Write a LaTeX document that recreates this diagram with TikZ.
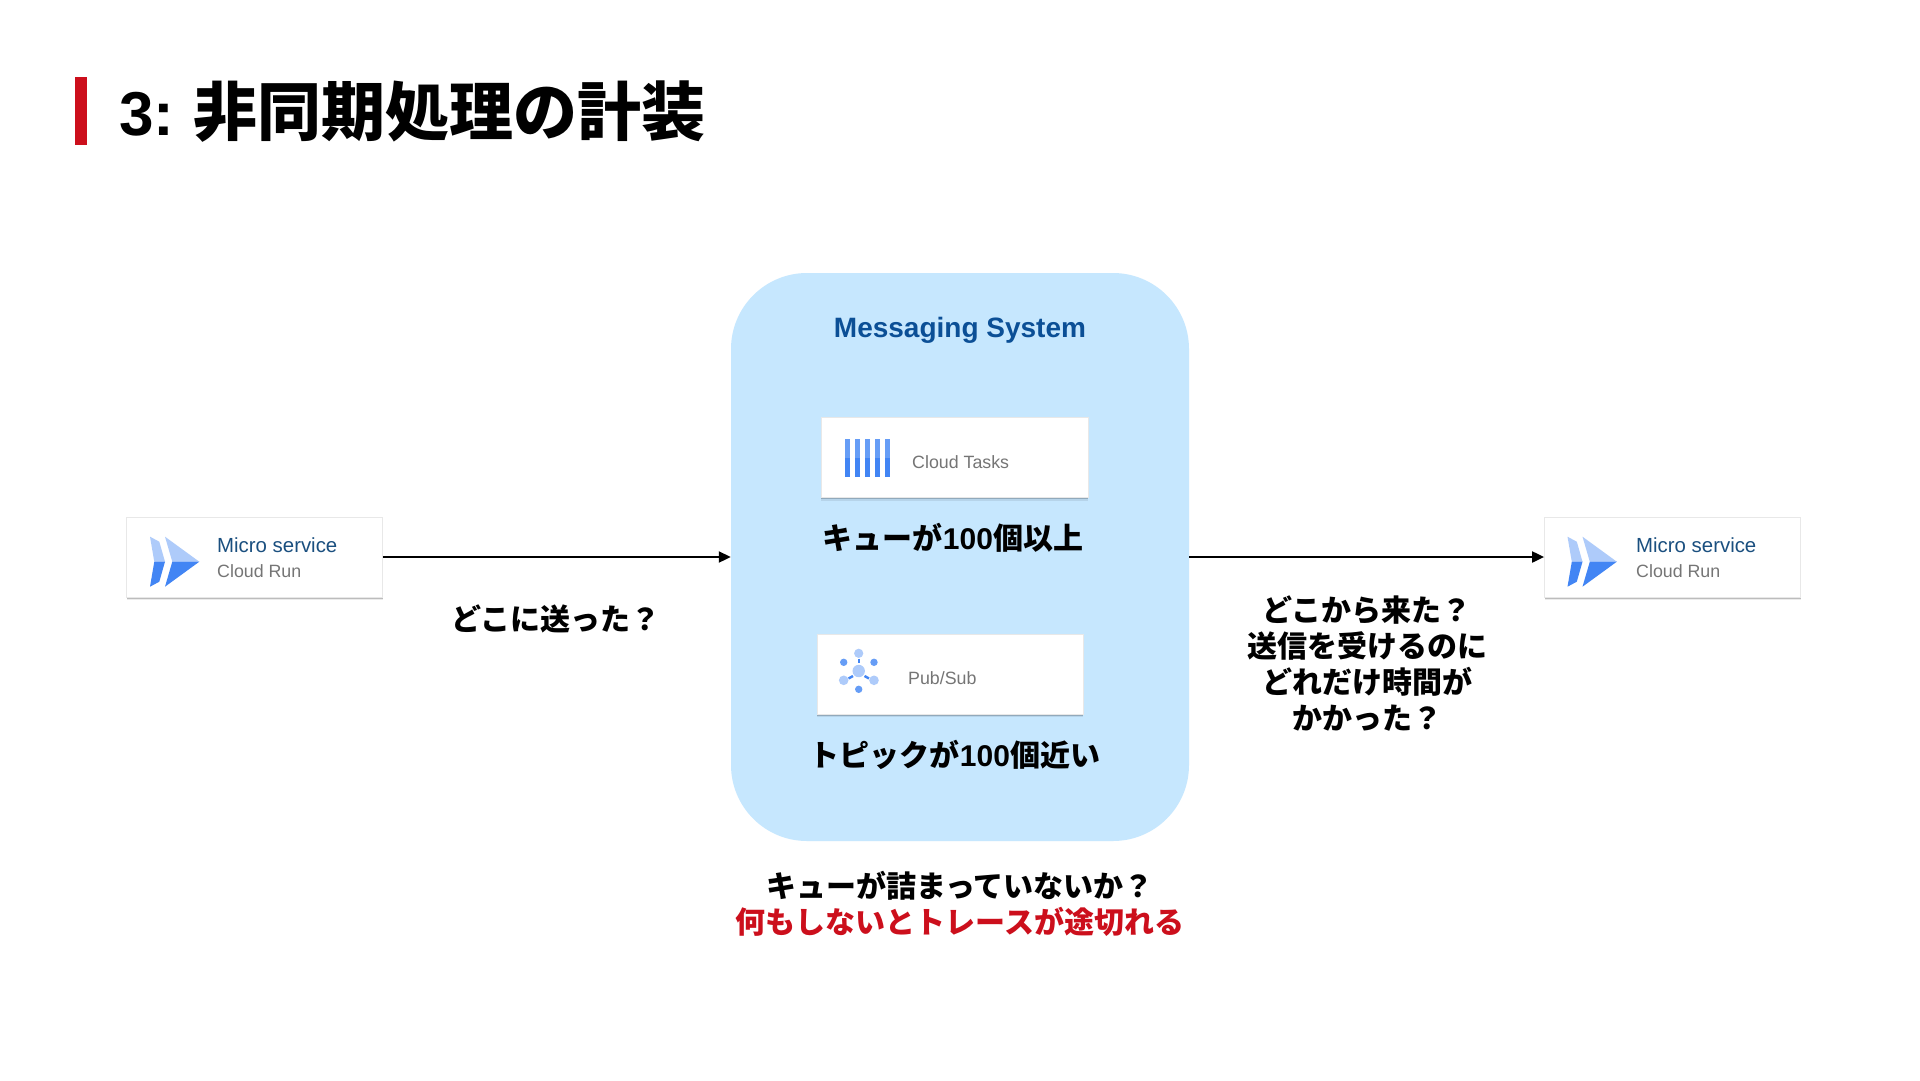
\documentclass[tikz,border=0pt]{standalone}
\usepackage{fontspec}
\setmainfont{Noto Sans CJK JP}
\newfontfamily\latb{Liberation Sans}
\usetikzlibrary{arrows.meta,shadows}
\definecolor{brandred}{HTML}{CC0F1C}
\definecolor{panelblue}{HTML}{C6E7FE}
\definecolor{headblue}{HTML}{0B4F96}
\definecolor{nameblue}{HTML}{1A4F7F}
\definecolor{subgray}{HTML}{757575}
\definecolor{glight}{HTML}{AECBFA}
\definecolor{gmid}{HTML}{669DF6}
\definecolor{gdark}{HTML}{4285F4}
\definecolor{cardedge}{HTML}{E8E8E8}
\newcommand{\fs}[2]{\fontsize{#1}{#2}\selectfont}
\tikzset{
  x=1pt,y=-1pt,
  card/.style={fill=white,draw=cardedge,line width=.8pt,inner sep=0pt,minimum width=256pt,minimum height=80pt,
    general shadow={fill=black,opacity=.08,shadow xshift=0pt,shadow yshift=-3pt},
    general shadow={fill=black,opacity=.20,shadow xshift=0pt,shadow yshift=-1.5pt}},
  panel/.style={fill=panelblue,rounded corners=76pt,inner sep=0pt,minimum width=458pt,minimum height=568pt},
  body/.style={font=\fs{30}{36}\bfseries,text=black,inner sep=0pt,align=center},
  svcname/.style={anchor=west,inner sep=0pt,font=\latb\fs{20.4}{24},text=nameblue},
  svcsub/.style={anchor=west,inner sep=0pt,font=\latb\fs{17.8}{24},text=subgray},
  flow/.style={draw=black,line width=2pt,-{Triangle[length=12pt,width=11pt]}},
}
\newcommand{\crun}[2]{%
  \begin{scope}[shift={(#1,#2)}]
    \fill[glight] (23,19.7) -- (32.3,24.7) -- (38,44.7) -- (27.3,44.7) -- cycle;
    \fill[gdark] (27.3,44.7) -- (38,44.7) -- (32.3,64.7) -- (23,69.7) -- cycle;
    \fill[glight] (38,19.7) -- (72.3,44.7) -- (45.3,44.7) -- cycle;
    \fill[gdark] (45.3,44.7) -- (72.3,44.7) -- (38,69.7) -- cycle;
  \end{scope}}
\begin{document}
\begin{tikzpicture}
\useasboundingbox (0,0) rectangle (1920,1080);
\fill[white] (0,0) rectangle (1920,1080);
% title
\fill[brandred] (75,77) rectangle (87,145);
\node[anchor=west,inner sep=0pt,font=\fs{64}{70}\bfseries] (title) at (119,112) {{\latb\fs{62}{70}3:} 非同期処理の計装};
% panel
\node[panel] (panel) at (960,557) {};
\node[font=\latb\fs{28}{34}\bfseries,text=headblue,inner sep=0pt] (head) at (960,330) {Messaging System};
% cards
\node[card] (left) at (254.5,557) {};
\node[card] (right) at (1672.5,557) {};
\node[card,minimum width=267pt] (tasks) at (954.5,457.5) {};
\node[card,minimum width=266pt] (pubsub) at (950,674) {};
% flows
\draw[flow] (left.east) -- (panel.west);
\draw[flow] (panel.east) -- (right.west);
% cloud run
\crun{127}{517}
\crun{1544.5}{517}
\node[svcname] (n1) at (217,545) {Micro service};
\node[svcsub] (s1) at (217,571) {Cloud Run};
\node[svcname] (n2) at (1636,545) {Micro service};
\node[svcsub] (s2) at (1636,571) {Cloud Run};
% tasks icon
\foreach \i in {0,1,2,3,4}{
  \fill[gmid] (844.7+10*\i,438.7) rectangle ++(5.4,19.3);
  \fill[gdark] (844.7+10*\i,458) rectangle ++(5.4,18.7);
}
\node[svcsub] (tt) at (912,462) {Cloud Tasks};
% pubsub icon
\draw[gdark,line width=2.4pt] (858.7,658.5) -- (858.7,663);
\draw[gdark,line width=2.4pt] (848.5,678.5) -- (853,676);
\draw[gdark,line width=2.4pt] (864.5,676) -- (869,678.5);
\fill[glight] (858.7,671) circle (6.2);
\fill[glight] (858.7,653.3) circle (4.6);
\fill[gmid] (843.7,662.3) circle (3.7);
\fill[gmid] (874,662.3) circle (3.7);
\fill[glight] (843.7,680.3) circle (4.8);
\fill[glight] (874,680.3) circle (4.8);
\fill[gmid] (858.7,689.3) circle (3.7);
\node[svcsub] (ps) at (908,678) {Pub/Sub};
% labels
\node[body] (q1) at (953,538) {キューが{\latb 100}個以上};
\node[body] (q2) at (955,755) {トピックが{\latb 100}個近い};
\node[body] (l1) at (556,618.5) {どこに送った？};
\node[body] (l2) at (1367,663.5) {どこから来た？\\送信を受けるのに\\どれだけ時間が\\かかった？};
\node[body] (b1) at (960,886) {キューが詰まっていないか？};
\node[body,text=brandred] (b2) at (960,922) {何もしないとトレースが途切れる};
\end{tikzpicture}
\end{document}
